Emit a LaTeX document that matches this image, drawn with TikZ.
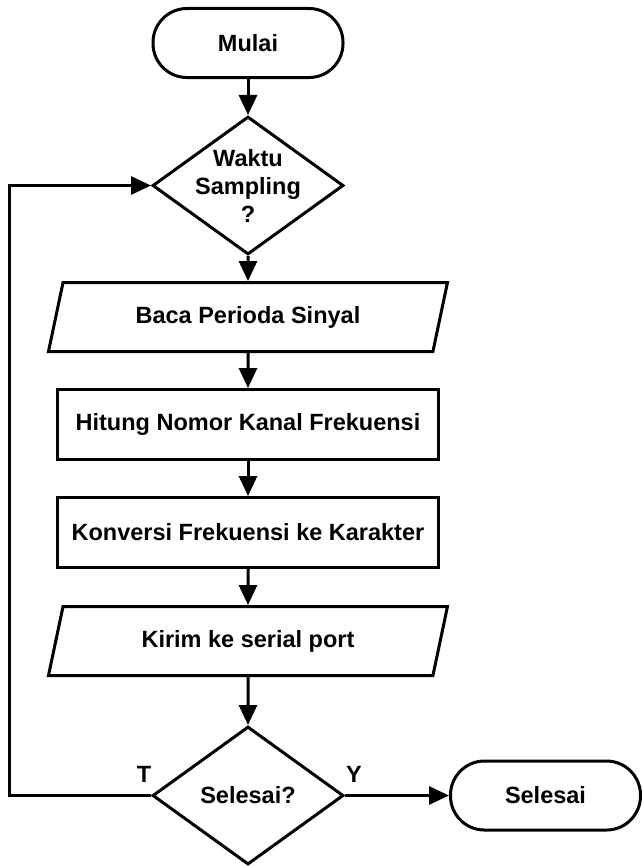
\documentclass[tikz,border=0pt]{standalone}
\usepackage{fontspec}
\setmainfont{Liberation Sans}
\usetikzlibrary{arrows.meta,positioning,shapes.geometric}

\begin{document}
\begin{tikzpicture}[x=1pt,y=1pt,
  every node/.style={font=\fontsize{23.5}{28}\selectfont\bfseries, line width=3pt},
  terminal/.style={draw, rectangle, rounded corners=34pt, minimum width=190pt, minimum height=69pt},
  proses/.style={draw, rectangle, minimum width=381pt, minimum height=70pt},
  data/.style={draw, trapezium, trapezium left angle=63, trapezium right angle=117,
    trapezium stretches body, minimum width=399pt, minimum height=69pt},
  keputusan/.style={draw, diamond, minimum width=191pt, minimum height=138pt, inner sep=0pt},
  alur/.style={line width=3pt, -{Triangle[length=20pt,width=18pt]}}]

  \useasboundingbox (0,0) rectangle (642,-867);

	\node (mulai) [terminal] at (248,-43) {Mulai};
	\node (sampling) [keputusan, below=36pt of mulai,
	  label={[align=center]center:Waktu\\Sampling\\?}] {};
	\node (baca) [data, below=25pt of sampling] {Baca Perioda Sinyal};
	\node (hitung) [proses, below=35pt of baca] {Hitung Nomor Kanal Frekuensi};
	\node (konversi) [proses, below=35pt of hitung] {Konversi Frekuensi ke Karakter};
	\node (kirim) [data, below=36pt of konversi] {Kirim ke serial port};
	\node (cekselesai) [keputusan, below=48pt of kirim] {Selesai?};
	\node (selesai) [terminal, right=104pt of cekselesai] {Selesai};
	\node (tidak) at ([shift={(-7,21)}]cekselesai.west) {T};
	\node (ya) at ([shift={(9,21)}]cekselesai.east) {Y};

  \path[alur] (mulai) edge (sampling);
  \path[alur] (sampling) edge (baca);
  \path[alur] (baca) edge (hitung);
  \path[alur] (hitung) edge (konversi);
  \path[alur] (konversi) edge (kirim);
  \path[alur] (kirim) edge (cekselesai);
  \path[alur] (cekselesai) edge (selesai);
  \draw[alur] (cekselesai.west) -- ++(-142,0) |- (sampling.west);

\end{tikzpicture}
\end{document}
